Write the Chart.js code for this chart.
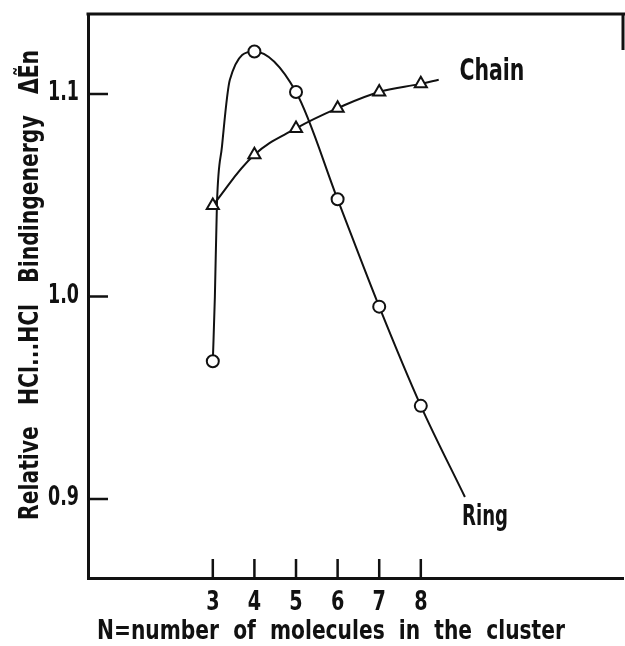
<!DOCTYPE html>
<html>
<head>
<meta charset="utf-8">
<script src="https://cdn.jsdelivr.net/npm/chart.js@4"></script>
<style>
  html, body { margin: 0; padding: 0; background: #fff; overflow: hidden; }
  #wrap { width: 625px; height: 646px; }
  canvas { display: block; }
</style>
</head>
<body>
<div id="wrap"><canvas id="chart"></canvas></div>
<script>
// cluster size N and relative binding energies
const clusterN = [3, 4, 5, 6, 7, 8];
const ringEnergy = [0.968, 1.121, 1.101, 1.048, 0.995, 0.946];
const chainEnergy = [1.045, 1.070, 1.083, 1.093, 1.101, 1.105];

// points
const ringCurveN = [3, 3.05, 3.10, 3.22, 3.41, 4, 5, 6, 7, 8, 9.06];
const ringCurveE = [0.968, 1.0, 1.046, 1.074, 1.107, 1.121, 1.101, 1.048, 0.995, 0.946, 0.901];
const chainCurveN = [3, 4, 5, 6, 7, 8, 8.43];
const chainCurveE = [1.045, 1.070, 1.083, 1.093, 1.101, 1.105, 1.107];

const xTickValues = [3, 4, 5, 6, 7, 8];
const yTickValues = [0.9, 1.0, 1.1];

// where the curve names sit, in data units
const chainLabelAt = [8.94, 1.111];
const ringLabelAt = [8.99, 0.891];

const FONT = "'DejaVu Sans Condensed', 'Liberation Sans Narrow', sans-serif";
const INK = '#111';

const toXY = (xs, ys) => xs.map((v, i) => ({ x: v, y: ys[i] }));

// draw text squeezed horizontally, like the narrow lettering of the original
function drawSqueezed(ctx, text, cx, cy, size, opts = {}) {
    ctx.save();
    ctx.font = 'bold ' + size + 'px ' + FONT;
    ctx.textBaseline = 'middle';
    const w = ctx.measureText(text).width;
    const sx = opts.width ? opts.width / w : (opts.sx || 0.8);
    ctx.translate(cx, cy);
    if (opts.rotate) ctx.rotate(opts.rotate);
    ctx.scale(sx, 1);
    ctx.textAlign = opts.align || 'center';
    ctx.fillText(text, 0, 0);
    ctx.restore();
}

const frameAndText = {
    id: 'frameAndText',
    afterDraw(chart) {
        const { ctx, chartArea: a, scales: { x, y } } = chart;
        ctx.save();
        ctx.strokeStyle = INK;
        ctx.fillStyle = INK;

        // top frame line and the short stub on the right
        ctx.lineWidth = 3;
        ctx.beginPath();
        ctx.moveTo(a.left - 1.5, a.top);
        ctx.lineTo(a.right + 2, a.top);
        ctx.moveTo(a.right, a.top);
        ctx.lineTo(a.right, a.top + 36);
        ctx.stroke();

        // inward tick marks
        ctx.lineWidth = 2.5;
        ctx.beginPath();
        xTickValues.forEach(v => {
            const px = x.getPixelForValue(v);
            ctx.moveTo(px, a.bottom);
            ctx.lineTo(px, a.bottom - 19);
        });
        yTickValues.forEach(v => {
            const py = y.getPixelForValue(v);
            ctx.moveTo(a.left, py);
            ctx.lineTo(a.left + 20, py);
        });
        ctx.stroke();

        // tick labels
        xTickValues.forEach(v => {
            drawSqueezed(ctx, String(v), x.getPixelForValue(v), a.bottom + 25, 26, { sx: 0.82 });
        });
        yTickValues.forEach(v => {
            drawSqueezed(ctx, v.toFixed(1), a.left - 9, y.getPixelForValue(v) - 1, 27, { sx: 0.72, align: 'right' });
        });

        // curve names
        const cx = x.getPixelForValue(chainLabelAt[0]);
        drawSqueezed(ctx, 'Chain', cx + 32, y.getPixelForValue(chainLabelAt[1]), 30, { width: 65 });
        const rx = x.getPixelForValue(ringLabelAt[0]);
        drawSqueezed(ctx, 'Ring', rx + 23, y.getPixelForValue(ringLabelAt[1]), 28, { width: 46 });

        // axis titles
        drawSqueezed(ctx, 'N=number  of  molecules  in  the  cluster', 331, a.bottom + 54, 27, { width: 468 });
        drawSqueezed(ctx, 'Relative   HCl...HCl   Bindingenergy   ΔẼn', 31, 285, 27, { width: 470, rotate: -Math.PI / 2 });
        ctx.restore();
    }
};

new Chart(document.getElementById('chart'), {
    type: 'scatter',
    data: {
        datasets: [
            {
                label: 'Ring points',
                data: toXY(clusterN, ringEnergy),
                pointStyle: 'circle',
                pointRadius: 6,
                pointBorderWidth: 2,
                pointBackgroundColor: '#fff',
                pointBorderColor: INK,
                showLine: false,
                order: 0
            },
            {
                label: 'Chain points',
                data: toXY(clusterN, chainEnergy),
                pointStyle: 'triangle',
                pointRadius: 7,
                pointBorderWidth: 2,
                pointBackgroundColor: '#fff',
                pointBorderColor: INK,
                showLine: false,
                order: 0
            },
            {
                label: 'Ring',
                data: toXY(ringCurveN, ringCurveE),
                showLine: true,
                borderColor: INK,
                borderWidth: 2,
                pointRadius: 0,
                cubicInterpolationMode: 'monotone',
                order: 1
            },
            {
                label: 'Chain',
                data: toXY(chainCurveN, chainCurveE),
                showLine: true,
                borderColor: INK,
                borderWidth: 2,
                pointRadius: 0,
                tension: 0.4,
                order: 1
            }
        ]
    },
    options: {
        responsive: true,
        maintainAspectRatio: false,
        animation: false,
        layout: { autoPadding: false, padding: { top: 14, right: 2, left: 0, bottom: 0 } },
        plugins: {
            legend: { display: false },
            tooltip: { enabled: false }
        },
        scales: {
            x: {
                type: 'linear',
                min: 0,
                max: 12.86,
                afterBuildTicks: s => { s.ticks = xTickValues.map(v => ({ value: v })); },
                afterFit: s => { s.height = 68; },
                grid: { display: false },
                border: { display: true, width: 3, color: INK },
                ticks: { display: false }
            },
            y: {
                min: 0.861,
                max: 1.1395,
                afterBuildTicks: s => { s.ticks = yTickValues.map(v => ({ value: v })); },
                afterFit: s => { s.width = 88; },
                grid: { display: false },
                border: { display: true, width: 3, color: INK },
                ticks: { display: false }
            }
        }
    },
    plugins: [frameAndText]
});
</script>
</body>
</html>
